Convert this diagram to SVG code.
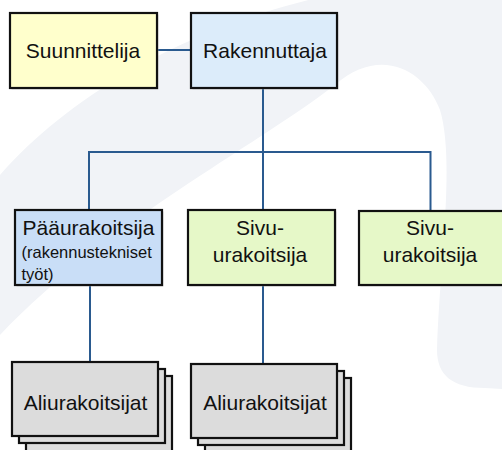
<svg xmlns="http://www.w3.org/2000/svg" width="502" height="450" viewBox="0 0 502 450">
<defs>
<style>
.box{stroke:#111;stroke-width:2.2}
.sh{fill:#bbb;stroke:none;opacity:0.6}
.t{font-family:"Liberation Sans",Arial,sans-serif;font-size:21px;fill:#111}
.s{font-family:"Liberation Sans",Arial,sans-serif;font-size:16.5px;fill:#111}
.c{fill:none;stroke:#2a5a8f;stroke-width:2}
</style>
</defs>
<rect width="502" height="450" fill="#ffffff"/>
<path d="M0,175 C70,95 190,25 330,-5 L520,-5 L520,390 L485,388 C452,388 437,375 437,350 C440,260 455,160 440,110 C425,70 380,45 335,85 C250,150 110,220 0,335 Z" fill="#f1f3f7"/>
<g id="connectors">
<path class="c" d="M157,50 H191"/>
<path class="c" d="M263,88 V211"/>
<path class="c" d="M89,211 V152 H430.5 V211"/>
<path class="c" d="M90,285 V362"/>
<path class="c" d="M263,285 V364"/>
</g>
<g id="suunnittelija">
<rect class="sh" x="11.5" y="14.5" width="147" height="75"/>
<rect class="box" x="10" y="13" width="147" height="75" fill="#ffffcc"/>
<text class="t" x="83" y="57.5" text-anchor="middle">Suunnittelija</text>
</g>
<g id="rakennuttaja">
<rect class="sh" x="192.5" y="14.5" width="146" height="75"/>
<rect class="box" x="191" y="13" width="146" height="75" fill="#dcecfa"/>
<text class="t" x="265" y="57.5" text-anchor="middle">Rakennuttaja</text>
</g>
<g id="paaurakoitsija">
<rect class="sh" x="16.5" y="211.5" width="147" height="75"/>
<rect class="box" x="15" y="210" width="147" height="75" fill="#c9def7"/>
<text class="t" x="88.5" y="235" text-anchor="middle">Pääurakoitsija</text>
<text class="s" x="21.5" y="258">(rakennustekniset</text>
<text class="s" x="21.5" y="280">työt)</text>
</g>
<g id="sivu1">
<rect class="sh" x="189.5" y="211.5" width="147" height="75"/>
<rect class="box" x="188" y="210" width="147" height="75" fill="#e6f8c8"/>
<text class="t" x="260" y="235" text-anchor="middle">Sivu-</text>
<text class="t" x="260" y="262" text-anchor="middle">urakoitsija</text>
</g>
<g id="sivu2">
<rect class="sh" x="360.5" y="211.5" width="147" height="75"/>
<rect class="box" x="359" y="211" width="147" height="74" fill="#e6f8c8"/>
<text class="t" x="430" y="235" text-anchor="middle">Sivu-</text>
<text class="t" x="430" y="262" text-anchor="middle">urakoitsija</text>
</g>
<g id="aliurakoitsijat1">
<rect class="box" x="26" y="376" width="146" height="80" fill="#dcdcdc"/>
<rect class="box" x="19" y="369" width="146" height="74" fill="#dcdcdc"/>
<rect class="box" x="12" y="362" width="146" height="74" fill="#dcdcdc"/>
<text class="t" x="85.5" y="410" text-anchor="middle">Aliurakoitsijat</text>
</g>
<g id="aliurakoitsijat2">
<rect class="box" x="205" y="378" width="146" height="80" fill="#dcdcdc"/>
<rect class="box" x="198" y="371" width="146" height="74" fill="#dcdcdc"/>
<rect class="box" x="191" y="364" width="146" height="74" fill="#dcdcdc"/>
<text class="t" x="265" y="410" text-anchor="middle">Aliurakoitsijat</text>
</g>
</svg>
